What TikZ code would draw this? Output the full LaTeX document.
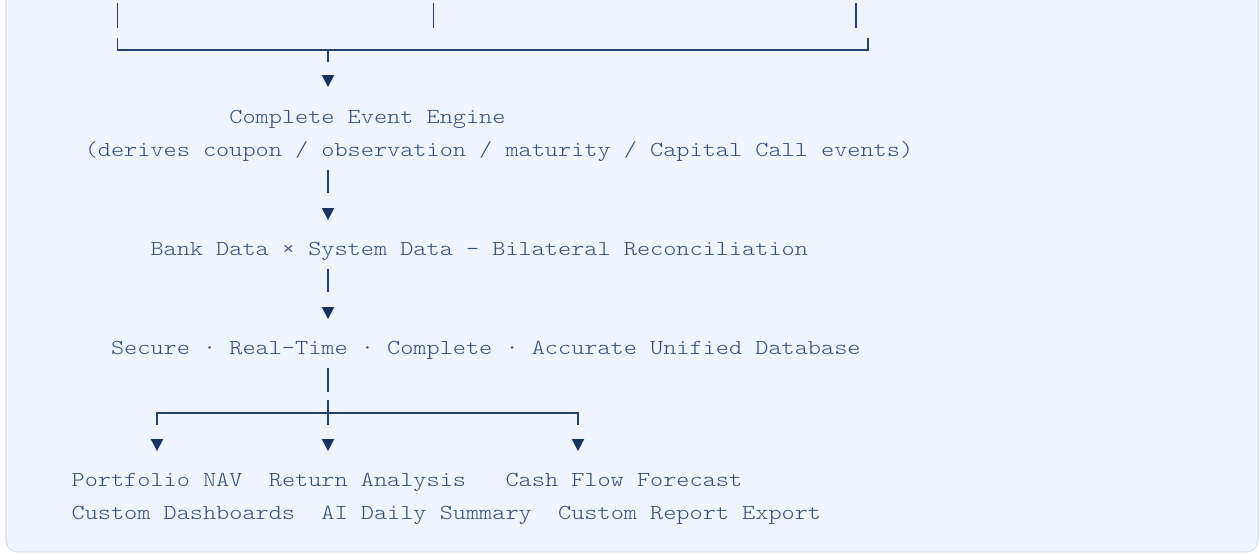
\documentclass[tikz,border=0pt]{standalone}
\usepackage{fontspec}
\setmonofont[FakeStretch=1.1741]{lmmonolt10-regular.otf}
\definecolor{bg}{RGB}{239,244,253}
\definecolor{bd}{RGB}{221,227,238}
\definecolor{txt}{RGB}{50,78,120}
\definecolor{ln}{RGB}{38,66,108}
\definecolor{tri}{RGB}{22,52,94}
\tikzset{
  lbl/.style={anchor=base west, inner sep=0pt, outer sep=0pt, text=txt,
    font=\ttfamily\fontsize{16}{20}\selectfont},
  wire/.style={draw=ln, line width=0.85pt},
  tridown/.pic={\fill[tri] (-6.3,0) -- (6.3,0) -- (0,12) -- cycle;},
}
\begin{document}
\begin{tikzpicture}[x=0.75pt,y=-0.75pt]
\useasboundingbox (0,0) rectangle (1259,553);
\fill[white] (0,0) rectangle (1259,553);
\draw[fill=bg, draw=bd, line width=1.1pt, rounded corners=9] (6,-40) rectangle (1258,552);

% top bracket
\coordinate (a1t) at (117.6,3);  \coordinate (a1b) at (117.6,28);
\coordinate (a2t) at (433.2,3);  \coordinate (a2b) at (433.2,28);
\coordinate (a3t) at (856,3);    \coordinate (a3b) at (856,28);
\draw[wire] (a1t) -- (a1b);
\draw[wire] (a2t) -- (a2b);
\draw[wire] (a3t) -- (a3b);
\coordinate (bLt) at (117.6,38); \coordinate (bL) at (117.6,50);
\coordinate (bRt) at (868,38);   \coordinate (bR) at (868,50);
\coordinate (bM) at (328,50);    \coordinate (bMb) at (328,62);
\draw[wire] (bLt) -- (bL) -- (bR) -- (bRt);
\draw[wire] (bM) -- (bMb);
\pic at (328,75) {tridown};

\node[lbl] (engine) at (229.4,123) {Complete Event Engine};
\node[lbl] (derives) at (84.75,156) {(derives coupon / observation / maturity / Capital Call events)};

\coordinate (f1) at (328,170); \coordinate (f2) at (328,193);
\draw[wire] (f1) -- (f2);
\pic at (328,208) {tridown};

\node[lbl] (recon) at (150.5,255) {Bank Data × System Data — Bilateral Reconciliation};

\coordinate (i1) at (328,269); \coordinate (i2) at (328,292);
\draw[wire] (i1) -- (i2);
\pic at (328,307) {tridown};

\node[lbl] (db) at (111.05,354) {Secure · Real-Time · Complete · Accurate Unified Database};

\coordinate (l1) at (328,368); \coordinate (l2) at (328,392);
\draw[wire] (l1) -- (l2);
\coordinate (mT) at (328,400); \coordinate (mM) at (328,413); \coordinate (mB) at (328,425);
\coordinate (mL) at (157,413); \coordinate (mLb) at (157,425);
\coordinate (mR) at (578,413); \coordinate (mRb) at (578,425);
\draw[wire] (mT) -- (mB);
\draw[wire] (mLb) -- (mL) -- (mR) -- (mRb);
\pic at (157,439) {tridown};
\pic at (328,439) {tridown};
\pic at (578,439) {tridown};

\node[lbl] (nav) at (71.6,486) {Portfolio NAV};
\node[lbl] (ret) at (268.85,486) {Return Analysis};
\node[lbl] (cash) at (505.55,486) {Cash Flow Forecast};
\node[lbl] (dash) at (71.6,519) {Custom Dashboards};
\node[lbl] (ai) at (321.45,519) {AI Daily Summary};
\node[lbl] (rep) at (558.15,519) {Custom Report Export};
\end{tikzpicture}
\end{document}
